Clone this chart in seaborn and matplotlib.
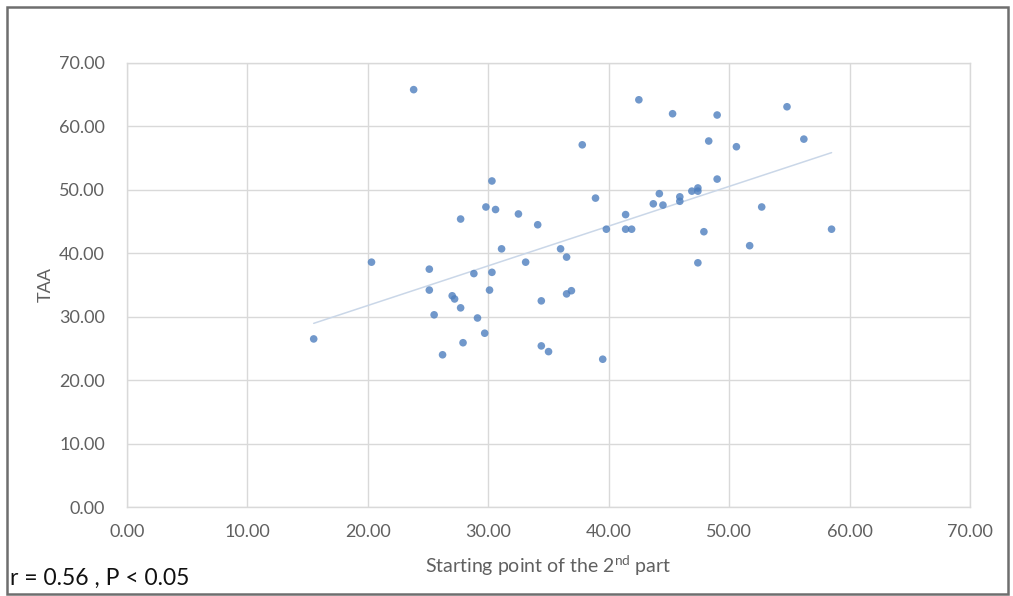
import matplotlib
matplotlib.use("Agg")
import matplotlib.pyplot as plt
import numpy as np
import pandas as pd
import seaborn as sns

# Starting point of the 2nd part (x) against TAA (y)
start_point = [15.5, 20.3, 23.8, 25.1, 25.1, 25.5, 26.2, 27.0, 27.2, 27.7,
               27.7, 27.9, 28.8, 29.1, 29.7, 29.8, 30.1, 30.3, 30.3, 30.6,
               31.1, 32.5, 33.1, 34.1, 34.4, 34.4, 35.0, 36.0, 36.5, 36.5,
               36.9, 37.8, 38.9, 39.5, 39.8, 41.4, 41.4, 41.9, 42.5, 43.7,
               44.2, 44.5, 45.3, 45.9, 45.9, 46.9, 47.4, 47.4, 47.4, 47.9,
               48.3, 49.0, 49.0, 50.6, 51.7, 52.7, 54.8, 56.2, 58.5]
taa = [26.5, 38.6, 65.8, 37.5, 34.2, 30.3, 24.0, 33.3, 32.8, 31.4,
       45.4, 25.9, 36.8, 29.8, 27.4, 47.3, 34.2, 37.0, 51.4, 46.9,
       40.7, 46.2, 38.6, 44.5, 32.5, 25.4, 24.5, 40.7, 39.4, 33.6,
       34.1, 57.1, 48.7, 23.3, 43.8, 46.1, 43.8, 43.8, 64.2, 47.8,
       49.4, 47.6, 62.0, 48.2, 48.9, 49.8, 50.3, 49.8, 38.5, 43.4,
       57.7, 61.8, 51.7, 56.8, 41.2, 47.3, 63.1, 58.0, 43.8]

axis_ticks = [0, 10, 20, 30, 40, 50, 60, 70]
x_title = "Starting point of the 2$^{\\mathrm{nd}}$ part"
y_title = "TAA"
stats_note = "r = 0.56 , P < 0.05"

df = pd.DataFrame({"start": start_point, "taa": taa})

sns.set_theme(style="white")
plt.rcParams["font.family"] = ["Lato", "DejaVu Sans"]
plt.rcParams["mathtext.fontset"] = "custom"
plt.rcParams["mathtext.rm"] = "Lato"

text_gray = "#606060"
grid_gray = "#D9D9D9"

fig = plt.figure(figsize=(10.13, 5.96), dpi=100)
ax = fig.add_axes([0.1254, 0.1493, 0.8322, 0.745])

sns.regplot(data=df, x="start", y="taa", ax=ax, ci=None, truncate=True,
            scatter_kws=dict(s=30, color="#4E7FBE", edgecolor="none", zorder=3),
            line_kws=dict(color="#CAD7E8", linewidth=1.1, zorder=2))

ax.set_xlim(0, 70)
ax.set_ylim(0, 70)
ax.set_xticks(axis_ticks)
ax.set_yticks(axis_ticks)
ax.set_xticklabels([f"{t:.2f}" for t in axis_ticks])
ax.set_yticklabels([f"{t:.2f}" for t in axis_ticks])
ax.tick_params(axis="both", length=0, labelsize=13, labelcolor=text_gray)
ax.tick_params(axis="x", pad=12)
ax.tick_params(axis="y", pad=16)
ax.grid(True, color=grid_gray, linewidth=1.0)
ax.set_axisbelow(True)
for side, sp in ax.spines.items():
    sp.set_visible(True)
    sp.set_color(grid_gray)
    sp.set_linewidth(1.0)

ax.set_xlabel(x_title, fontsize=14, color=text_gray, labelpad=10)
ax.set_ylabel(y_title, fontsize=13, color=text_gray, labelpad=4)

fig.text(0.010, 0.012, stats_note, fontsize=16.5, color="#111111",
         ha="left", va="bottom")

# chart border
border = plt.Rectangle((0.007, 0.003), 0.988, 0.986, transform=fig.transFigure,
                       fill=False, edgecolor="#6E6E6E", linewidth=1.8)
fig.patches.append(border)

fig.savefig("out.png", dpi=100)
